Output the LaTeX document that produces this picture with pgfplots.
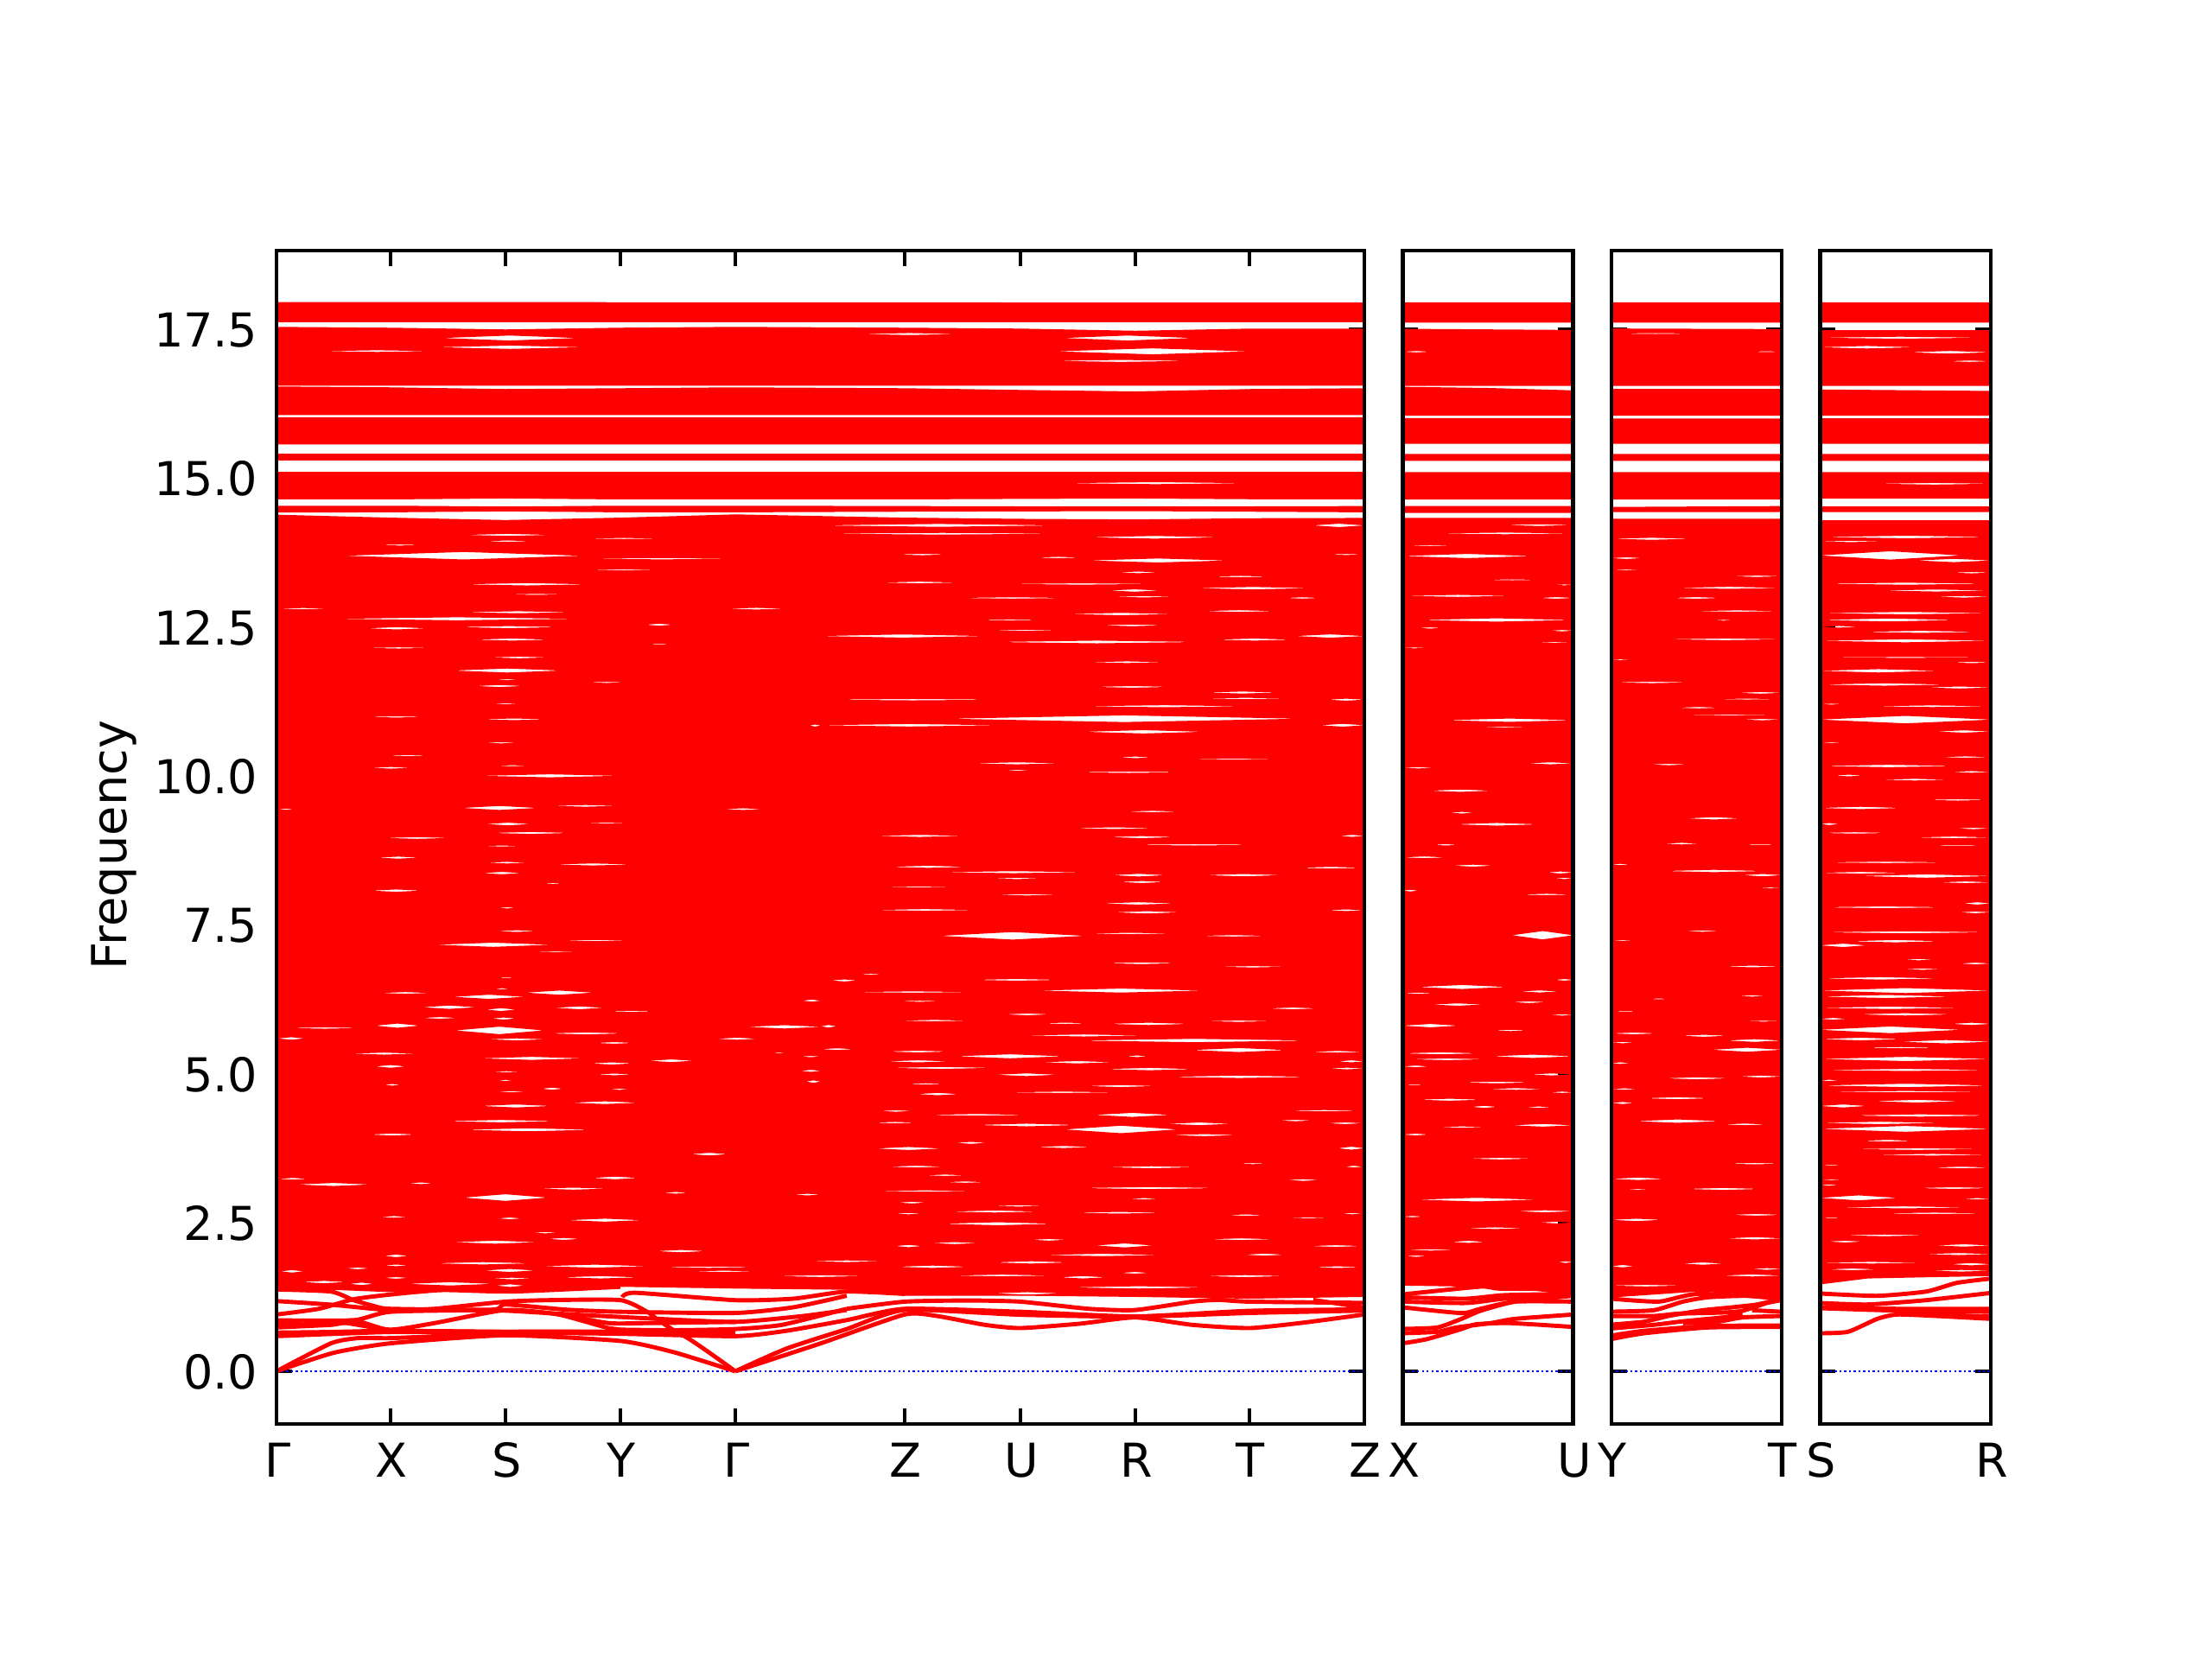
\documentclass[border=0pt]{standalone}
\usepackage{fontspec}
\setmainfont{DejaVu Sans}
\usepackage{pgfplots}
\pgfplotsset{compat=1.18}
\def\J{(nan,nan)}
% each gap between bands: x from / x to / frequency / half height
\newcommand\gapsto[2]{\gdef#1{}\foreach \xa/\xb/\fc/\hh in {#2}{%
 \pgfmathsetmacro\xm{(\xa+\xb)/2}\pgfmathsetmacro\tp{\fc+1.4*\hh}\pgfmathsetmacro\bt{\fc-1.4*\hh}%
 \xdef#1{#1 (\xa,\fc)(\xm,\tp)(\xb,\fc)(\xm,\bt)\J}}}
\gapsto\gapsmain{54/179/17.15/.01,192/348/17.37/.03,188/353/17.215/.02,678/787/17.437/.012,911/1060/17.37/.03,903/1124/17.146/.036,899/1056/16.985/.012,911/1124/14.93/.012,
219/317/14.06/.012,241/295/13.955/.008,353/451/14/.006,116/170/13.89/.006,
630/903/14.22/.017,1200/1259/14.22/.02,630/911/14.08/.01,941/1092/14.02/.016,718/777/13.73/.008,1217/1259/13.73/.006,879/931/13.68/.008,941/1100/13.63/.024,975/1020/13.43/.01,1080/1152/13.36/.008,702/787/13.26/.01,847/1016/13.235/.008,1064/1197/13.165/.014,964/1022/13.125/.014,968/1040/13.02/.008,787/917/13/.008,1168/1207/13/.008,1072/1156/12.78/.01,919/1036/12.73/.014,807/891/12.63/.006,955/1026/12.54/.01,823/911/12.455/.006,630/819/12.36/.019,831/1068/12.26/.016,1088/1176/12.3/.012,1180/1259/12.36/.02,943/1026/11.92/.01,947/1034/11.505/.01,630/843/11.29/.008,1076/1160/11.41/.012,1076/1168/11.31/.008,1217/1259/11.29/.012,935/1120/11.18/.012,779/1184/10.97/.04,630/835/10.86/.015,1209/1259/10.86/.017,935/1072/10.75/.02,976/1012/10.32/.01,1056/1160/10.29/.006,807/907/10.22/.012,843/873/10.1/.006,919/1054/10.07/.008,982/1046/9.41/.008,921/1018/9.13/.01,694/795/9/.012,963/1040/8.98/.012,984/1140/8.85/.008,1231/1259/9/.012,
710/799/8.48/.012,771/935/8.39/.012,968/1028/8.34/.016,1076/1162/8.34/.014,1184/1257/8.465/.01,976/1028/8.225/.012,831/883/8.285/.008,704/783/8.14/.006,831/907/8.01/.008,955/1040/7.865/.014,694/807/7.755/.01,971/1044/7.715/.014,1217/1259/7.75/.01,769/935/7.32/.045,937/1040/7.36/.008,1068/1148/7.32/.008,959/1044/6.86/.01,1092/1168/6.8/.008,642/672/6.57/.012,674/702/6.675/.006,807/907/6.58/.01,883/1072/6.4/.024,670/803/6.375/.008,718/771/6.22/.006,843/895/6/.01,720/803/5.895/.008,887/939/5.85/.008,963/1056/5.84/.014,1148/1205/6.1/.01,1076/1152/5.885/.008,630/648/5.8/.015,867/1002/5.645/.012,927/1197/5.56/.02,1060/1168/5.4/.024,630/668/5.415/.01,706/779/5.375/.01,787/911/5.295/.024,1197/1259/5.37/.01,706/779/5.21/.012,887/967/5.195/.014,712/827/5.1/.012,984/1008/5.295/.01,959/1062/5.08/.014,833/903/4.985/.016,1032/1197/4.95/.014,1229/1259/5.21/.012,1219/1259/5.09/.01,730/773/4.83/.008,742/789/4.66/.014,939/1016/4.795/.012,847/972/4.69/.008,698/736/4.375/.008,751/871/4.31/.01,947/1034/4.31/.024,1168/1257/4.38/.008,690/742/4.18/.008,811/925/4.14/.016,1032/1104/4.16/.016,913/1042/4.065/.045,1036/1112/3.97/.012,1160/1199/4.215/.008,1217/1257/4.17/.01,787/821/3.84/.012,694/769/3.745/.018,879/943/3.77/.012,1229/1259/3.75/.018,708/773/3.44/.01,963/1062/3.43/.012,1112/1148/3.49/.006,1237/1257/3.44/.01,751/797/3.295/.008,775/819/3.18/.008,1170/1207/3.215/.01,694/807/3.03/.008,929/1092/3.08/.012,720/751/2.835/.01,831/887/2.78/.008,781/881/2.685/.012,716/747/2.65/.008,923/1028/2.665/.01,1100/1144/2.625/.008,771/899/2.48/.018,1172/1217/2.58/.006,1233/1257/2.65/.008,988/1020/2.9/.008,
759/811/2.155/.012,875/913/2.21/.01,1080/1154/2.22/.01,717/746/2.105/.014,949/1014/2.115/.024,1197/1255/2.105/.01,889/1023/1.955/.014,1121/1166/1.96/.012,831/916/1.83/.014,1201/1255/1.75/.01,719/800/1.757/.014,907/960/1.58/.014,978/1009/1.655/.01,1076/1166/1.6/.012,782/898/1.61/.01,920/1076/1.41/.014,831/907/1.31/.014,
80/353/13.71/.045,362/530/13.66/.008,358/446/13.47/.006,217/362/13.23/.014,269/333/13.06/.006,2/60/12.82/.008,217/342/12.76/.012,72/346/12.65/.018,106/173/12.49/.014,209/329/12.51/.012,428/458/12.55/.012,229/317/12.3/.012,106/177/12.16/.007,429/458/12.22/.005,249/313/12/.01,205/329/11.78/.024,231/285/11.52/.012,253/281/11.625/.006,250/281/11.22/.006,102/175/11/.007,237/313/10.96/.01,617/630/10.855/.012,522/589/12.82/.01,241/279/10.565/.007,127/177/10.35/.007,110/155/10.145/.01,239/394/10.01/.018,215/301/9.47/.024,321/394/9.505/.01,2/20/9.45/.007,518/562/9.45/.01,243/293/9.2/.016,249/340/9.05/.012,125/201/8.965/.01,117/165/8.635/.012,245/289/8.55/.01,321/412/8.52/.012,239/283/8.375/.014,110/167/8.08/.014,241/281/8.83/.006,358/406/11.58/.006,358/406/9.215/.006,255/291/10.18/.006,309/331/8.2/.006,
257/277/7.79/.007,255/301/7.4/.01,185/317/7.17/.025,329/410/7.24/.007,297/350/7.05/.005,255/277/6.62/.005,253/269/6.43/.007,121/177/6.36/.01,289/366/6.365/.025,205/287/6.295/.025,169/231/6.12/.02,243/277/6.08/.017,323/378/6.11/.017,382/440/6.05/.007,169/209/5.94/.01,249/277/5.93/.012,115/165/5.81/.025,12/100/5.77/.008,207/309/5.73/.045,315/402/5.68/.012,2/32/5.595/.015,245/311/5.58/.012,510/556/5.59/.012,370/412/5.52/.01,546/630/5.79/.02,609/630/6.23/.012,88/161/5.34/.012,237/354/5.26/.018,432/482/5.22/.016,115/149/5.125/.016,364/412/5.175/.013,370/412/4.99/.01,251/281/5.035/.007,125/143/4.815/.01,257/273/4.89/.007,307/331/4.75/.012,255/289/4.7/.007,386/408/4.74/.007,342/418/4.515/.016,237/317/4.46/.018,195/325/4.205/.014,217/366/4.06/.018,108/161/3.98/.012,480/522/3.65/.016,366/418/3.25/.016,24/108/3.14/.018,2/36/3.235/.01,153/181/3.16/.01,305/382/3.07/.012,217/313/2.92/.04,448/476/3/.01,599/630/2.97/.01,121/151/2.595/.01,257/283/2.57/.01,338/422/2.54/.018,297/325/2.33/.008,315/350/2.225/.012,205/301/2.17/.018,574/589/5.35/.005,607/630/5.05/.012,613/630/4.87/.014,607/630/5.29/.007,
5/31/1.68/.015,81/107/1.73/.01,125/152/1.94/.015,125/152/1.78/.01,125/152/1.57/.01,85/112/1.47/.015,152/250/1.47/.02,183/295/1.815/.014,241/299/1.695/.018,250/295/1.56/.01,255/286/1.44/.016,308/429/1.767/.018,440/496/2.02/.014,482/554/1.68/.008,30/80/1.5/.014,330/420/1.58/.014,440/560/1.75/.008,580/680/1.6/.01,620/700/1.85/.01}
\gapsto\gapsB{0/32/17.14/.008,118/197.5/14.225/.01,40/197.5/14.085/.01,0/64/13.88/.005,0/150/13.705/.025,91/163/13.305/.005,177/197.5/13.22/.005,5/123/13.035/.012,159/197.5/13/.01,20/197.5/12.63/.02,18/45/12.495/.007,172/197.5/12.45/.008,154/197.5/12.25/.005,0/27/12.16/.005,50/197.5/10.945/.02,86/150/10.83/.005,
0/36/10.145/.008,145/197.5/10.22/.012,32/102/9.76/.014,55/82/9.39/.01,61/157/9.195/.016,36/64/8.85/.008,0/50/8.64/.01,59/104/8.5/.012,168/197.5/8.385/.012,177/197.5/8.285/.008,0/18/8.08/.01,136/197.5/8.015/.008,127/197.5/7.33/.05,177/197.5/6.58/.01,18/120/6.46/.024,0/36/6.355/.008,136/181/6.385/.012,34/93/6.165/.014,127/166/6.205/.01,172/197.5/5.99/.008,0/64/5.81/.02,105/145/5.73/.008,0/88/5.345/.012,104/197.5/5.295/.02,9/95/5.245/.01,0/30/5.125/.01,148/197.5/4.99/.012,68/150/4.855/.01,100/163/4.745/.01,0/27/4.815/.005,172/197.5/4.69/.008,18/91/4.565/.012,80/109/4.445/.012,143/172/4.44/.008,127/197.5/4.135/.016,43/95/4.105/.008,0/30/3.98/.01,77/150/3.575/.01,18/154/2.885/.022,132/197.5/2.69/.012,0/23/2.6/.008,159/197.5/2.5/.01,73/141/2.405/.01,56/96/2.175/.012,180/197.5/1.835/.01,3/62/2.04/.008,3/28/1.935/.008}
\gapsto\gapsC{0/103/17.445/.005,162/197.5/17.14/.005,0/94/13.995/.012,0/35/13.67/.01,0/35/13.47/.005,140/197.5/13.365/.008,76/197.5/13.17/.012,71/126/13/.01,94/197.5/12.78/.008,120/140/12.625/.005,67/197.5/12.305/.01,0/21/11.96/.005,0/94/11.58/.008,148/197.5/11.405/.01,117/197.5/11.3/.005,76/126/11.155/.008,76/197.5/11.03/.005,152/197.5/10.955/.008,
44/89/10.2/.008,89/148/9.295/.014,62/101/8.87/.01,148/197.5/8.85/.005,0/21/8.52/.008,62/176/8.41/.014,153/197.5/8.34/.014,171/197.5/8.125/.005,85/126/7.4/.008,0/26/7.24/.005,130/197.5/6.805/.01,148/178/6.31/.008,44/66/6.26/.005,0/33/6.05/.005,155/197.5/5.885/.005,0/53/5.68/.01,81/134/5.64/.012,134/197.5/5.56/.016,0/26/5.525/.008,117/197.5/5.405/.024,0/21/5.18/.01,62/137/4.925/.012,150/197.5/4.955/.012,0/30/4.745/.008,39/114/4.59/.012,0/26/4.51/.012,28/126/4.205/.02,130/180/4.15/.01,134/197.5/3.49/.008,0/62/3.235/.014,17/44/3.06/.005,87/173/3.065/.012,0/58/2.545/.014,139/197.5/2.63/.01,
135/197.5/2.235/.014,83/129/1.81/.014,0/26/1.766/.014,0/80/1.44/.01,129/197.5/1.61/.012,163/197.5/1.72/.01}
\gapsto\gapsD{0/185/17.375/.012,0/108/17.215/.015,103/197.5/17.13/.016,148/197.5/16.98/.008,67/197.5/14.92/.01,0/197.5/14.025/.015,0/71/13.95/.008,0/162/13.715/.05,112/197.5/13.63/.02,153/197.5/13.425/.008,0/197.5/13.24/.012,71/197.5/13.125/.012,135/197.5/13.02/.01,0/197.5/12.745/.014,0/158/12.63/.018,0/44/12.515/.01,48/185/12.43/.012,0/197.5/12.28/.018,0/197.5/12/.005,153/197.5/11.915/.008,0/135/11.775/.02,0/148/11.545/.014,125/197.5/11.495/.012,62/197.5/11.18/.01,0/26/11.215/.005,0/197.5/10.955/.045,135/197.5/10.755/.014,0/26/10.57/.005,139/197.5/10.325/.008,
0/158/10.175/.014,153/197.5/10.075/.01,17/49/10.015/.01,71/148/9.945/.01,121/197.5/9.605/.008,0/94/9.47/.014,0/21/9.2/.012,0/80/9.05/.008,157/197.5/9.125/.008,112/197.5/8.975/.01,121/197.5/8.835/.005,0/153/8.555/.008,0/94/8.38/.01,48/197.5/8.325/.02,139/197.5/8.22/.01,0/148/7.8/.01,166/197.5/7.865/.014,162/197.5/7.715/.01,0/197.5/7.38/.012,35/139/7.23/.014,0/53/7.16/.02,98/130/6.92/.008,98/139/6.76/.008,162/197.5/6.855/.01,0/139/6.605/.014,0/197.5/6.4/.03,0/153/6.3/.018,0/162/6.11/.014,44/153/6/.014,0/30/5.925/.01,153/197.5/5.84/.014,0/162/5.74/.04,0/94/5.585/.016,94/197.5/5.54/.02,48/139/5.44/.008,0/197.5/5.25/.025,0/197.5/5.065/.012,0/21/4.89/.008,0/197.5/4.805/.02,0/197.5/4.7/.008,62/162/4.54/.016,0/53/4.46/.018,35/197.5/4.3/.014,0/139/4.175/.014,0/197.5/4.075/.035,48/108/3.875/.01,62/197.5/3.64/.01,40/185/3.735/.01,0/26/3.465/.005,130/197.5/3.425/.01,0/26/3.215/.005,0/21/3.13/.008,112/197.5/3.08/.01,0/89/2.915/.03,166/197.5/2.9/.008,21/171/2.755/.012,67/197.5/2.655/.008,0/26/2.575/.005,
0/118/1.825/.01,9/66/1.713/.01,152/197.5/1.8/.014,129/197.5/1.69/.01,26/123/2.285/.01,135/197.5/2.115/.014,9/49/2.18/.01,123/197.5/1.97/.012}
\def\blocksmain{(0,17.975)(1259,17.965)(1259,17.635)(0,17.635)\J
(0,17.557)(132,17.543)(265,17.514)(398,17.543)(531,17.557)(727,17.543)(861,17.528)(994,17.492)(1126,17.528)(1259,17.528)(1259,16.57)(0,16.57)\J
(0,16.555)(132,16.541)(265,16.512)(398,16.526)(531,16.541)(727,16.526)(861,16.497)(994,16.472)(1126,16.512)(1259,16.526)(1259,16.076)(0,16.076)\J
(0,16.037)(1259,16.037)(1259,15.582)(0,15.582)\J
(0,15.423)(1259,15.423)(1259,15.311)(0,15.311)\J
(0,15.118)(1259,15.118)(1259,14.657)(1126,14.66)(994,14.672)(861,14.665)(727,14.657)(531,14.657)(398,14.657)(265,14.672)(132,14.657)(0,14.657)\J
(0,14.551)(132,14.551)(265,14.537)(398,14.551)(531,14.551)(727,14.545)(861,14.54)(994,14.537)(1126,14.54)(1259,14.545)(1259,14.44)(1126,14.45)(994,14.46)(861,14.455)(727,14.45)(531,14.44)(398,14.44)(265,14.455)(132,14.44)(0,14.435)\J
(0,14.4)(132,14.35)(265,14.31)(398,14.35)(531,14.405)(727,14.35)(861,14.33)(994,14.32)(1126,14.34)(1259,14.345)(1259,1.25)(1126,1.22)(994,1.25)(861,1.27)(727,1.27)(660,1.37)(531,1.39)(398,1.42)(265,1.36)(132,1.33)(63,1.37)(0,1.39)\J}
\def\blocksB{(0,17.97)(197.5,17.97)(197.5,17.63)(0,17.63)\J
(0,17.525)(197.5,17.505)(197.5,16.565)(0,16.565)\J
(0,16.55)(100,16.53)(197.5,16.49)(197.5,16.065)(0,16.065)\J
(0,16.025)(197.5,16.025)(197.5,15.59)(0,15.59)\J
(0,15.42)(197.5,15.42)(197.5,15.305)(0,15.305)\J
(0,15.115)(197.5,15.115)(197.5,14.655)(0,14.655)\J
(0,14.545)(197.5,14.545)(197.5,14.43)(0,14.43)\J
(0,14.345)(197.5,14.345)(197.5,1.28)(130,1.39)(90,1.42)(0,1.44)\J}
\def\blocksC{(0,17.97)(197.5,17.97)(197.5,17.63)(0,17.63)\J
(0,17.53)(197.5,17.52)(197.5,16.565)(0,16.565)\J
(0,16.515)(197.5,16.515)(197.5,16.065)(0,16.065)\J
(0,16.015)(197.5,16.015)(197.5,15.59)(0,15.59)\J
(0,15.42)(197.5,15.42)(197.5,15.305)(0,15.305)\J
(0,15.115)(197.5,15.115)(197.5,14.655)(0,14.655)\J
(0,14.53)(197.5,14.545)(197.5,14.445)(0,14.445)\J
(0,14.33)(197.5,14.33)(197.5,1.27)(100,1.34)(0,1.24)\J}
\def\blocksD{(0,17.97)(197.5,17.97)(197.5,17.63)(0,17.63)\J
(0,17.5)(197.5,17.5)(197.5,16.565)(0,16.565)\J
(0,16.505)(197.5,16.48)(197.5,16.065)(0,16.065)\J
(0,16.02)(197.5,16.02)(197.5,15.59)(0,15.59)\J
(0,15.42)(197.5,15.42)(197.5,15.305)(0,15.305)\J
(0,15.115)(197.5,15.115)(197.5,14.67)(0,14.67)\J
(0,14.54)(197.5,14.54)(197.5,14.445)(0,14.445)\J
(0,14.305)(197.5,14.305)(197.5,1.6)(123,1.58)(55,1.56)(0,1.46)\J}
\newcommand\bandblocks[2]{\edef\doit{\noexpand\addplot[draw=none,fill=red,even odd rule,unbounded coords=jump] coordinates {#1 #2};}\doit}
\pgfplotsset{panel/.style={scale only axis,anchor=south west,height=4.24375in,ymin=-0.886,ymax=18.84,clip=false,
 ytick={0,2.504,5.007,7.511,10.015,12.519,15.022,17.526},tick style={black,line width=.75pt},major tick length=4pt,tick align=inside,
 axis line style={black,line width=1bp},
 tick label style={inner sep=0pt,font=\fontsize{12.2}{14}\selectfont},
 xticklabel style={text height=9pt,text depth=0pt,xshift=.3pt},xticklabel shift=4.8pt,
 yticklabel style={anchor=east,yshift=-.3pt},yticklabel shift=4.7pt,
 every axis y label/.style={at={(axis description cs:-0.1491,0.4934)},rotate=90,anchor=center,font=\fontsize{12.6}{14}\selectfont}},
 band/.style={red,line width=1.1bp,line join=round,smooth,tension=.35},
 zero/.style={blue,line width=.65pt,dash pattern=on .55pt off .7pt}}
\newcommand\frameit{\draw[black,line width=1bp] (rel axis cs:0,0) rectangle (rel axis cs:1,1);}
\begin{document}
\begin{tikzpicture}
\useasboundingbox (0,0) rectangle (8in,6in);
\begin{axis}[panel,at={(1in,.85in)},width=3.934in,xmin=0,xmax=1259,
 xtick={0,132,265,398,531,727,861,994,1126,1259},xticklabels={Γ,X,S,Y,Γ,Z,U,R,T,Z},
 yticklabels={0.0,2.5,5.0,7.5,10.0,12.5,15.0,17.5},ylabel={Frequency}]
\addplot[zero] coordinates {(0,0)(1259,0)};
\bandblocks\blocksmain\gapsmain
\addplot[band] coordinates {(0,0)(66,.31)(132,.47)(265,.605)(398,.51)(460,.32)(531,0)};
\addplot[band] coordinates {(531,0)(630,.47)(727,.954)(764,.93)(820,.78)(861,.726)(930,.8)(994,.905)(1060,.78)(1126,.726)(1190,.82)(1259,.954)};
\addplot[band] coordinates {(0,0)(63,.47)(94,.557)(132,.557)(200,.6)(265,.663)(398,.663)(430,.62)(469,.615)(531,0)};
\addplot[band] coordinates {(531,0)(590,.38)(660,.71)(727,1.03)(861,.95)(994,.92)(1126,1.016)(1259,1.04)};
\addplot[band] coordinates {(0,.59)(132,.66)(265,.65)(398,.63)(531,.59)(590,.68)(660,.86)(727,1.05)(861,1)(994,.92)(1126,.98)(1259,1.02)};
\addplot[band] coordinates {(0,.65)(60,.66)(132,.68)(265,.665)(398,.66)(531,.65)};
\addplot[band] coordinates {(0,.736)(63,.78)(81,.81)(132,.7)(183,.81)(265,1.03)(326,.955)(384,.725)(398,.7)(460,.69)(531,.71)(585,.78)(660,1.05)};
\addplot[band] coordinates {(0,.857)(89,.857)(132,1)(250,1.026)(326,.968)(429,.89)(531,.83)(610,.93)(660,1.03)};
\addplot[band] coordinates {(0,.954)(49,1.05)(89,1.21)(132,1.29)(192,1.365)(272,1.34)(398,1.42)};
\addplot[band] coordinates {(0,1.18)(63,1.12)(132,1.026)(183,1.05)(265,1.17)(317,1.196)(398,1.196)(429,1)(442,.857)(465,.64)};
\addplot[band] coordinates {(0,.81)(49,.78)(89,.857)(132,.687)(200,.67)(265,.66)};
\addplot[band] coordinates {(0,1.375)(63,1.34)(89,1.196)(112,1.1)(132,1.05)(250,1.036)(265,1.123)(335,1.036)(398,1)(531,.98)(598,1.075)(660,1.27)};
\addplot[band] coordinates {(400,1.245)(415,1.32)(531,1.195)(598,1.22)(660,1.34)(727,1.3)};
\addplot[band] coordinates {(326,.968)(384,.81)(429,.81)(531,.83)};
\addplot[band] coordinates {(660,1.05)(727,1.17)(800,1.19)(861,1.17)(940,1.05)(994,1.03)(1060,1.17)(1090,1.2)(1126,1.17)(1259,1.15)};
\addplot[band] coordinates {(1200,1.2)(1259,1.07)};
\frameit
\end{axis}
\begin{axis}[panel,at={(5.073in,.85in)},width=.6166in,xmin=0,xmax=197.5,xtick={0,197.5},xticklabels={X,U},yticklabels={}]
\addplot[zero] coordinates {(0,0)(197.5,0)};
\bandblocks\blocksB\gapsB
\addplot[band] coordinates {(0,.47)(28,.54)(68,.71)(85,.79)(124,.81)(197.5,.745)};
\addplot[band] coordinates {(0,.712)(40,.736)(68,.881)(90,1.016)(130,1.171)(197.5,1.268)};
\addplot[band] coordinates {(0,.639)(40,.663)(62,.736)(102,.81)(130,.881)(197.5,.954)};
\addplot[band] coordinates {(0,1.075)(68,.978)(90,1.05)(130,1.171)(197.5,1.171)};
\addplot[band] coordinates {(0,1.171)(73,1.147)(118,1.22)(197.5,1.278)};
\addplot[band] coordinates {(0,1.292)(90,1.423)(113,1.389)(197.5,1.39)};
\addplot[band] coordinates {(0,1.244)(73,1.22)(118,1.28)(197.5,1.3)};
\frameit
\end{axis}
\begin{axis}[panel,at={(5.8275in,.85in)},width=.6166in,xmin=0,xmax=197.5,xtick={0,197.5},xticklabels={Y,T},yticklabels={}]
\addplot[zero] coordinates {(0,0)(197.5,0)};
\bandblocks\blocksC\gapsC
\addplot[band] coordinates {(0,.542)(38,.639)(112,.736)(197.5,.745)};
\addplot[band] coordinates {(0,.6)(38,.68)(112,.76)(197.5,.77)};
\addplot[band] coordinates {(0,.784)(38,.833)(66,.929)(106,1.026)(140,1.075)(169,1.123)(197.5,1.22)};
\addplot[band] coordinates {(0,1.002)(49,1.026)(83,1.171)(112,1.244)(158,1.268)(197.5,1.21)};
\addplot[band] coordinates {(0,.929)(49,.929)(78,.968)(129,.987)(152,1.016)(180,1.147)(197.5,1.196)};
\addplot[band] coordinates {(83,.808)(123,.833)(152,.905)(197.5,.929)};
\addplot[band] coordinates {(163,1.026)(197.5,1)};
\addplot[band] coordinates {(0,.72)(49,.78)(83,.84)(129,.905)(152,.96)};
\addplot[band] coordinates {(0,1.22)(55,1.171)(100,1.3)(197.5,1.24)};
\frameit
\end{axis}
\begin{axis}[panel,at={(6.583in,.85in)},width=.617in,xmin=0,xmax=197.5,xtick={0,197.5},xticklabels={S,R},yticklabels={}]
\addplot[zero] coordinates {(0,0)(197.5,0)};
\bandblocks\blocksD\gapsD
\addplot[band] coordinates {(0,.639)(32,.663)(66,.881)(89,.954)(135,.929)(197.5,.881)};
\addplot[band] coordinates {(89,.97)(135,.95)(197.5,.92)};
\addplot[band] coordinates {(0,1.075)(89,1.05)(197.5,1.05)};
\addplot[band] coordinates {(0,1.06)(89,1.02)(197.5,1)};
\addplot[band] coordinates {(0,1.147)(55,1.123)(123,1.196)(197.5,1.317)};
\addplot[band] coordinates {(0,1.307)(66,1.268)(123,1.341)(158,1.486)(197.5,1.558)};
\frameit
\end{axis}
\end{tikzpicture}
\end{document}
